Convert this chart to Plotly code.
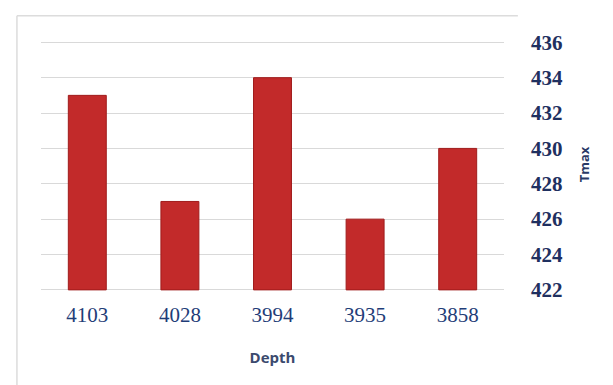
import plotly.graph_objects as go

# Tmax by sample depth
depths = ["4103", "4028", "3994", "3935", "3858"]
tmax = [433, 427, 434, 426, 430]
y_ticks = [422, 424, 426, 428, 430, 432, 434, 436]
base_value = 422

fig = go.Figure(
    go.Bar(
        x=depths,
        y=[v - base_value for v in tmax],
        base=base_value,
        width=0.41,
        marker=dict(color="#c22a2a", line=dict(color="#a01c1c", width=1)),
    )
)

frame = dict(color="#dcdcdc", width=1.5)
fig.update_layout(
    width=613,
    height=385,
    margin=dict(l=41, r=109, t=37, b=93),
    paper_bgcolor="white",
    plot_bgcolor="white",
    showlegend=False,
    shapes=[
        # top and left edges of the chart frame
        dict(type="line", xref="paper", yref="paper",
             x0=-0.052, x1=1.03, y0=1.083, y1=1.083, line=frame),
        dict(type="line", xref="paper", yref="paper",
             x0=-0.052, x1=-0.052, y0=1.083, y1=-0.4, line=frame),
    ],
)

fig.update_xaxes(
    type="category",
    tickfont=dict(family="Liberation Serif", size=21, color="#1f3d78"),
    ticklabelstandoff=8,
    showgrid=False,
    showline=False,
    title=dict(text="<b>Depth</b>", font=dict(family="Open Sans", size=15, color="#3b4a6e"),
               standoff=26),
)

fig.update_yaxes(
    side="right",
    range=[421.88, 436.3],
    tickvals=y_ticks,
    tickfont=dict(family="Liberation Serif", size=21, color="#1f3060", weight="bold"),
    ticklabelstandoff=26,
    showgrid=True,
    gridcolor="#d9d9d9",
    gridwidth=1,
    zeroline=False,
    showline=False,
    title=dict(text="<b>Tmax</b>", font=dict(family="Open Sans", size=13, color="#2a3a66"),
               standoff=17),
)

fig.write_html("out.html")
